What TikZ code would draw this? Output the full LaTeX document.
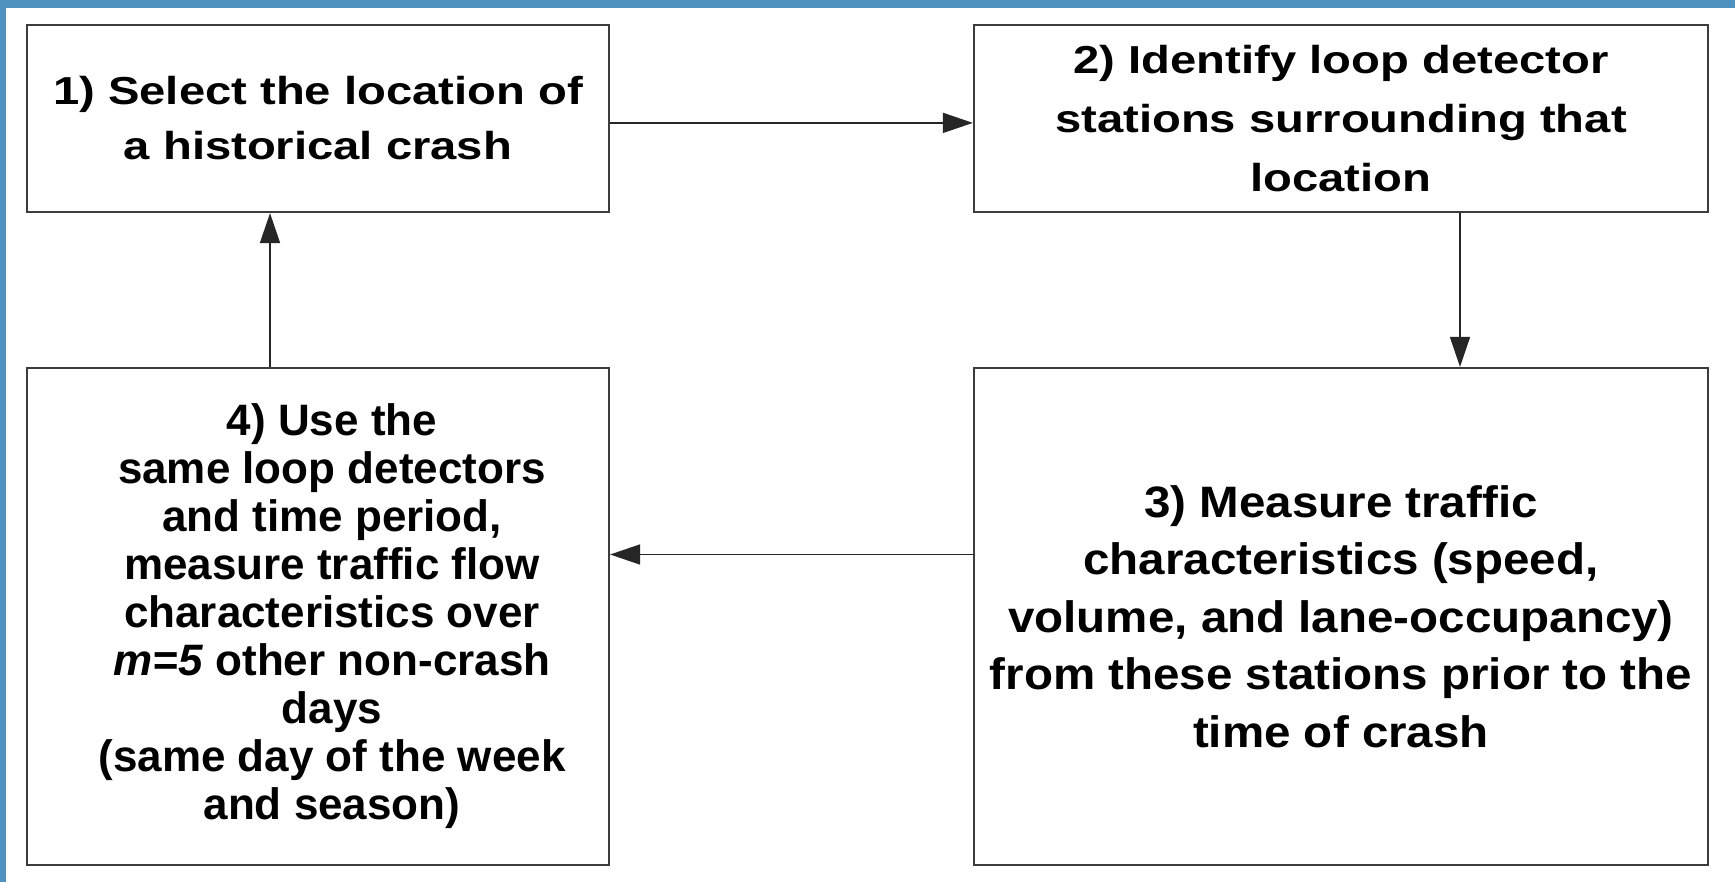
\documentclass[tikz,border=0pt]{standalone}
\usepackage{fontspec}
\setmainfont{Liberation Sans}
\newfontfamily\widefont[FakeStretch=1.21]{Liberation Sans}
\newfontfamily\midfont[FakeStretch=1.08]{Liberation Sans}
\usetikzlibrary{arrows.meta}
\definecolor{frameblue}{RGB}{79,145,192}
\definecolor{boxline}{RGB}{60,60,60}
\begin{document}
\begin{tikzpicture}[x=0.5pt,y=-0.5pt,
  box/.style={draw=boxline, line width=1.1pt, fill=white, align=center, inner sep=0pt},
  smallbox/.style={box, minimum width=291pt, minimum height=93.5pt},
  widebox/.style={box, minimum width=367pt, minimum height=93.5pt},
  tallbox/.style={box, minimum width=291pt, minimum height=248.5pt},
  bigbox/.style={box, minimum width=367pt, minimum height=248.5pt},
  boxtext/.style={align=center, inner sep=0pt},
  arr/.style={draw=black!85, line width=0.8pt, -{Triangle[length=15pt,width=10pt]}}]
\fill[white] (0,0) rectangle (1735,882);
\useasboundingbox (0,0) rectangle (1735,882);
\fill[frameblue] (0,0) rectangle (1735,8);
\fill[frameblue] (0,0) rectangle (6,882);

\node[smallbox, font=\widefont\fontsize{19.5}{27.5}\selectfont\bfseries] (b1) at (318,118.5)
  {1) Select the location of\\a historical crash};
\node[widebox, font=\widefont\fontsize{19.5}{29.3}\selectfont\bfseries] (b2) at (1341,118.5)
  {2) Identify loop detector\\stations surrounding that\\location};
\node[bigbox, font=\midfont\fontsize{22}{28.75}\selectfont\bfseries] (b3) at (1341,616.5)
  {3) Measure traffic\\characteristics (speed,\\volume, and lane-occupancy)\\from these stations prior to the\\time of crash};
\node[tallbox] (b4) at (318,616.5) {};
\node[boxtext, font=\fontsize{22}{24}\selectfont\bfseries] (b4text) at ([xshift=7pt]b4.center)
  {4) Use the\\same loop detectors\\and time period,\\measure traffic flow\\characteristics over\\\textit{m=5} other non-crash\\days\\(same day of the week\\and season)};

\draw[arr] ([yshift=-2.2pt]b1.east) -- ([yshift=-2.2pt]b2.west);
\draw[arr] ([xshift=59.5pt]b2.south) -- ([xshift=59.5pt]b3.north);
\draw[arr] ([yshift=31pt]b3.west) -- ([yshift=31pt]b4.east);
\draw[arr] ([xshift=-24pt]b4.north) -- ([xshift=-24pt]b1.south);
\end{tikzpicture}
\end{document}
